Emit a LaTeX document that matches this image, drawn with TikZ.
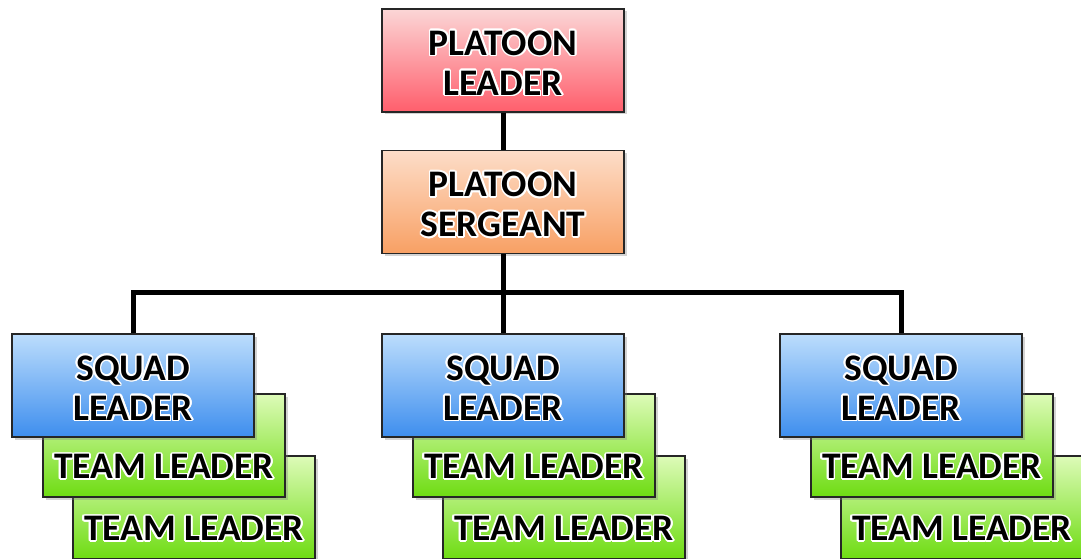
\documentclass[tikz,border=0pt]{standalone}
\usepackage{fontspec}
\setmainfont{Carlito}
\usepackage{contour}
\contourlength{1.6pt}
\usetikzlibrary{shadows}
\definecolor{pltop}{HTML}{FBD6D6}
\definecolor{plbot}{HTML}{FF5E6C}
\definecolor{pstop}{HTML}{FDDDC8}
\definecolor{psbot}{HTML}{F8A064}
\definecolor{sqtop}{HTML}{BCDDFC}
\definecolor{sqbot}{HTML}{3E8EEE}
\definecolor{tltop}{HTML}{DDFBB8}
\definecolor{tlbot}{HTML}{6EDC12}
\newcommand{\gl}[1]{\contour{white}{#1}}
\newcommand{\up}{\rule{0pt}{31pt}}
\tikzset{
  box/.style={draw=black!85,line width=1.1pt,minimum width=242pt,minimum height=103pt,
    inner sep=0pt,align=center,font=\fontsize{37.5}{40}\selectfont\bfseries,
    drop shadow={shadow xshift=2.5pt,shadow yshift=-2.5pt,opacity=.35}},
  plbox/.style={box,top color=pltop,bottom color=plbot},
  psbox/.style={box,top color=pstop,bottom color=psbot},
  sqbox/.style={box,top color=sqtop,bottom color=sqbot},
  tlbox/.style={box,top color=tltop,bottom color=tlbot},
  tltext/.style={font=\fontsize{37.5}{40}\selectfont\bfseries,inner sep=0pt},
  link/.style={line width=5pt,line join=miter}
}
\begin{document}
\begin{tikzpicture}[x=1pt,y=-1pt]
  \useasboundingbox (0,0) rectangle (1081,559);
  % top of the chart
  \node[plbox] (pl) at (503,60.5) {\up\gl{PLATOON}\\\gl{LEADER}};
  \node[psbox] (ps) at (503,202) {\up\gl{PLATOON}\\\gl{SERGEANT}};
  \coordinate (hub) at (503,292);
  % squads with their two team leaders
  \foreach \x/\n in {133/a,503/b,901/c}{
    \node[tlbox] (tlb\n) at (\x+61,507.5) {};
    \node[tltext] at ([yshift=-22pt]tlb\n.center) {\gl{TEAM LEADER}};
    \node[tlbox] (tla\n) at (\x+31,445.5) {};
    \node[tltext] at ([yshift=-22pt]tla\n.center) {\gl{TEAM LEADER}};
    \node[sqbox] (sq\n) at (\x,385.5) {\up\gl{SQUAD}\\\gl{LEADER}};
  }
  \draw[link] (pl) -- (ps);
  \draw[link] (ps) -- (sqb);
  \draw[link] (sqa.north) -- (sqa.north |- hub) -- (sqc.north |- hub) -- (sqc.north);
\end{tikzpicture}
\end{document}
